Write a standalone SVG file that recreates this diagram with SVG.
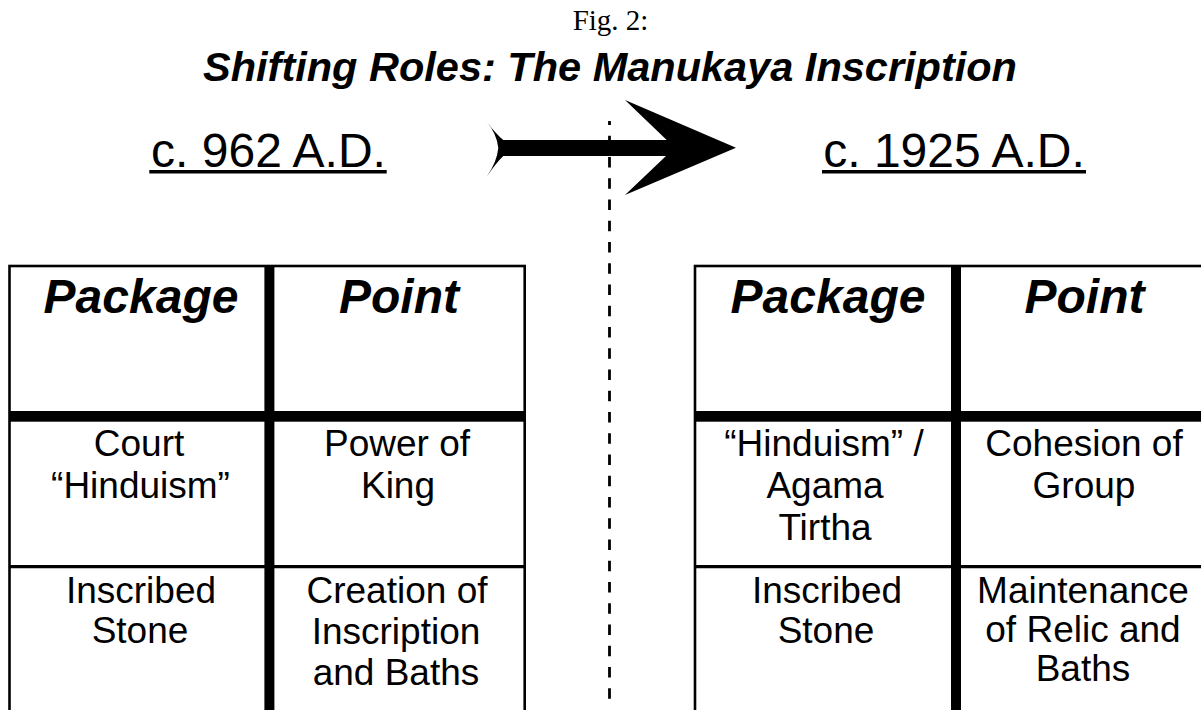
<svg xmlns="http://www.w3.org/2000/svg" width="1201" height="710" viewBox="0 0 1201 710">
  <style>
    .fig { font-family: "Liberation Serif", "Times New Roman", serif; font-size: 29px; fill: #000; }
    .title { font-family: "Liberation Sans", Arial, sans-serif; font-size: 41.5px; font-weight: bold; font-style: italic; fill: #000; }
    .date { font-family: "Liberation Sans", Arial, sans-serif; font-size: 48px; fill: #000; }
    .head { font-family: "Liberation Sans", Arial, sans-serif; font-size: 48px; font-weight: bold; font-style: italic; fill: #000; text-anchor: middle; }
    .cell { font-family: "Liberation Sans", Arial, sans-serif; font-size: 37px; fill: #000; text-anchor: middle; }
    .frame { fill: none; stroke: #000; stroke-width: 2.6; }
    .thick { fill: #000; }
    .rowline { stroke: #000; stroke-width: 3.3; }
  </style>

  <g id="caption">
    <text class="fig" x="610.5" y="30" text-anchor="middle">Fig. 2:</text>
    <text class="title" x="610" y="81" text-anchor="middle">Shifting Roles: The Manukaya Inscription</text>
  </g>

  <g id="label-962">
    <text class="date" x="268.5" y="166.5" text-anchor="middle">c. 962 A.D.</text>
    <rect x="149.3" y="170" width="237.4" height="3.5" fill="#000"/>
  </g>

  <g id="label-1925">
    <text class="date" x="954" y="166.5" text-anchor="middle">c. 1925 A.D.</text>
    <rect x="822" y="170" width="264" height="3.5" fill="#000"/>
  </g>

  <g id="divider">
    <line x1="609.5" y1="121" x2="609.5" y2="709" stroke="#000" stroke-width="2.8" stroke-dasharray="10.5 10.75" stroke-dashoffset="6.45"/>
  </g>

  <g id="connectors">
    <path d="M 486.7 121.7 Q 496 134 503.3 140 L 666.7 140 L 625 100 L 736 147.7 L 625 195 L 666 156 L 503.3 156 Q 496 163 486.7 176.7 Q 497 162 498.3 148 Q 497 134 486.7 121.7 Z" fill="#000"/>
  </g>

  <g id="table-962">
    <rect class="frame" x="9.5" y="266" width="515.2" height="470"/>
    <rect class="thick" x="264.4" y="266" width="10" height="450"/>
    <rect class="thick" x="9.5" y="411" width="515.2" height="10.7"/>
    <line class="rowline" x1="9.5" y1="566.7" x2="524.7" y2="566.7"/>
    <g id="t1-head">
      <text class="head" x="141" y="313">Package</text>
      <text class="head" x="399" y="313">Point</text>
    </g>
    <g id="t1-row1">
      <text class="cell" x="139" y="456">Court</text>
      <text class="cell" x="140.5" y="498">“Hinduism”</text>
      <text class="cell" x="397" y="456">Power of</text>
      <text class="cell" x="398" y="498">King</text>
    </g>
    <g id="t1-row2">
      <text class="cell" x="141" y="603">Inscribed</text>
      <text class="cell" x="140" y="643">Stone</text>
      <text class="cell" x="397" y="603">Creation of</text>
      <text class="cell" x="396" y="644">Inscription</text>
      <text class="cell" x="396" y="685">and Baths</text>
    </g>
  </g>

  <g id="table-1925">
    <rect class="frame" x="695" y="266" width="516" height="470"/>
    <rect class="thick" x="951" y="266" width="10" height="450"/>
    <rect class="thick" x="695" y="411" width="516" height="10.7"/>
    <line class="rowline" x1="695" y1="566.7" x2="1211" y2="566.7"/>
    <g id="t2-head">
      <text class="head" x="828" y="313">Package</text>
      <text class="head" x="1084.5" y="313">Point</text>
    </g>
    <g id="t2-row1">
      <text class="cell" x="824" y="456">“Hinduism” /</text>
      <text class="cell" x="825" y="498">Agama</text>
      <text class="cell" x="825" y="540">Tirtha</text>
      <text class="cell" x="1084" y="456">Cohesion of</text>
      <text class="cell" x="1084" y="498">Group</text>
    </g>
    <g id="t2-row2">
      <text class="cell" x="827" y="603">Inscribed</text>
      <text class="cell" x="826" y="643">Stone</text>
      <text class="cell" x="1083" y="603">Maintenance</text>
      <text class="cell" x="1083" y="642">of Relic and</text>
      <text class="cell" x="1083" y="681">Baths</text>
    </g>
  </g>
</svg>
